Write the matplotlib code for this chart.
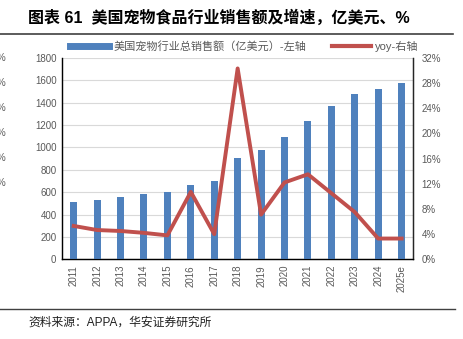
import matplotlib
matplotlib.use('Agg')
import matplotlib.pyplot as plt
from matplotlib.lines import Line2D

plt.rcParams['font.family'] = ['Liberation Sans', 'Noto Sans CJK SC', 'DejaVu Sans']

years = ['2011', '2012', '2013', '2014', '2015', '2016', '2017', '2018',
         '2019', '2020', '2021', '2022', '2023', '2024', '2025e']
sales = [509, 534, 558, 585, 603, 668, 695, 907,
         973, 1090, 1236, 1368, 1473, 1523, 1574]
yoy = [5.3, 4.65, 4.5, 4.2, 3.8, 10.7, 4.0, 30.3,
       7.1, 12.2, 13.5, 10.5, 7.5, 3.3, 3.3]

blue = '#4f81bd'
red = '#c0504d'
grey = '#595959'

fig = plt.figure(figsize=(4.63, 3.39), dpi=100)
ax = fig.add_axes([0.1339, 0.235, 0.7588, 0.5947])
x = range(len(years))
ax.bar(x, sales, width=0.3, color=blue, zorder=3)
ax.set_xlim(-0.5, len(years) - 0.5)
ax.set_ylim(0, 1800)
ax.set_yticks(range(0, 1801, 200))
ax.set_xticks(list(x))
ax.set_xticklabels(years, rotation=90)
ax.grid(axis='y', color='#d9d9d9', linewidth=0.8, zorder=0)
ax.tick_params(axis='both', length=0, labelsize=7, colors=grey, pad=4)
ax.spines['top'].set_visible(False)
for s in ['left', 'bottom', 'right']:
    ax.spines[s].set_color('#262626')
    ax.spines[s].set_linewidth(1.0)

ax2 = ax.twinx()
ax2.plot(list(x), yoy, color=red, linewidth=2.8, zorder=4)
ax2.set_ylim(0, 32)
ax2.set_yticks(range(0, 33, 4))
ax2.set_yticklabels([f'{v}%' for v in range(0, 33, 4)])
ax2.tick_params(axis='y', length=0, labelsize=7, colors=grey, pad=6)
ax2.spines['top'].set_visible(False)
ax2.spines['right'].set_color('#262626')

handles = [Line2D([], [], color=blue, linewidth=5),
           Line2D([], [], color=red, linewidth=3)]
fig.legend(handles, ['美国宠物行业总销售额（亿美元）-左轴', 'yoy-右轴'],
           loc='center', bbox_to_anchor=(0.528, 1 - 46 / 339), ncol=2,
           frameon=False, fontsize=8, labelcolor=grey, handlelength=3.5,
           columnspacing=2.3, handletextpad=0.4)

fig.text(28 / 463, 1 - 18 / 339, '图表 61  美国宠物食品行业销售额及增速，亿美元、%',
         fontsize=11.5, fontweight='bold', va='center', ha='left')
fig.add_artist(Line2D([0, 453 / 463], [1 - 34 / 339] * 2, color='#404040', linewidth=1.2))
fig.add_artist(Line2D([0, 455 / 463], [1 - 309 / 339] * 2, color='#404040', linewidth=1.0))
fig.text(28 / 463, 1 - 323 / 339, '资料来源：APPA，华安证券研究所', fontsize=8.5,
         va='center', ha='left', color='#202020')

# clipped labels of the neighbouring chart on the left edge
for yy in [58, 83, 108, 133, 158, 183]:
    fig.text(-3 / 463, 1 - yy / 339, '%', fontsize=7, color=grey, va='center', ha='left')

fig.savefig('out.png', dpi=100)
